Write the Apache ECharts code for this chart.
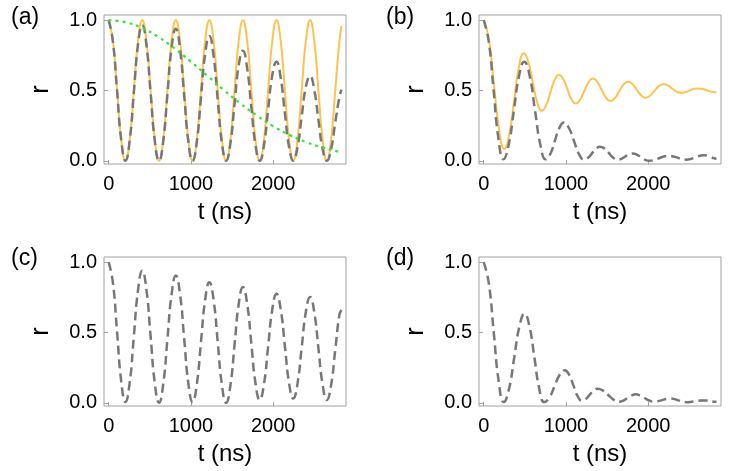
<!DOCTYPE html>
<html>
<head>
<meta charset="utf-8">
<script src="https://cdn.jsdelivr.net/npm/echarts@6/dist/echarts.min.js"></script>
<style>
  html, body { margin: 0; padding: 0; background: #fff; }
  #chart { width: 750px; height: 471px; }
</style>
</head>
<body>
<div id="chart"></div>
<script>
// time samples (ns) shared by panels (a) and (c)
const tA = [0, 51, 102, 153, 204, 255, 306, 357, 408, 459, 510, 561, 612, 663, 714, 765,
  816, 867, 918, 969, 1020, 1071, 1122, 1173, 1224, 1275, 1326, 1377, 1428, 1479, 1530, 1581,
  1632, 1683, 1734, 1785, 1836, 1887, 1938, 1989, 2040, 2091, 2142, 2193, 2244, 2295, 2346, 2397,
  2448, 2499, 2550, 2601, 2652, 2703, 2754, 2805, 2830];

// (a) solid orange
const aOrange = [1, .854, .5, .146, 0, .146, .5, .854, 1, .854, .5, .146, 0, .146, .5, .854,
  1, .854, .5, .146, 0, .146, .5, .854, 1, .854, .5, .146, 0, .146, .5, .854,
  1, .854, .5, .146, 0, .146, .5, .854, 1, .854, .5, .146, 0, .146, .5, .854,
  1, .854, .5, .146, 0, .146, .5, .854, .96];

// (a) gray dashed
const aGray = [1, .850, .496, .144, 0, .143, .487, .828, .965, .821, .479, .140, 0, .139, .473, .805,
  .940, .797, .463, .134, 0, .132, .450, .763, .887, .746, .430, .124, 0, .120, .404, .680,
  .783, .660, .382, .110, 0, .107, .362, .610, .704, .590, .339, .097, 0, .094, .314, .526,
  .603, .506, .291, .084, 0, .080, .270, .453, .506];

// (a) green dotted
const tGreen = [0, 200, 400, 600, 800, 1000, 1200, 1400, 1600, 1800, 2000, 2200, 2400, 2600, 2800, 2830];
const aGreen = [1, .986, .946, .882, .799, .705, .604, .503, .408, .322, .246, .184, .133, .094, .064, .061];

// (b) solid orange [t, r]
const bOrange = [[0, 1], [63, .866], [125, .542], [188, .217], [250, .083], [309, .182], [369, .424], [428, .665],
  [487, .764], [542, .704], [596, .560], [651, .415], [705, .355], [758, .393], [810, .484], [863, .575],
  [915, .612], [966, .582], [1017, .510], [1067, .437], [1118, .407], [1171, .433], [1223, .496], [1276, .559],
  [1328, .585], [1381, .562], [1434, .505], [1487, .448], [1540, .425], [1594, .445], [1648, .494], [1701, .543],
  [1755, .563], [1808, .546], [1860, .506], [1913, .466], [1965, .449], [2020, .463], [2075, .497], [2130, .531],
  [2185, .545], [2238, .536], [2292, .514], [2345, .492], [2398, .483], [2449, .488], [2500, .499], [2551, .510],
  [2602, .515], [2655, .511], [2709, .502], [2762, .492], [2815, .488], [2830, .489]];

// (b) gray dashed [t, r]
const bGray = [[0, 1], [60, .855], [120, .505], [180, .155], [240, .01], [303, .111], [367, .358], [430, .604],
  [493, .705], [559, .604], [624, .358], [690, .111], [755, .01], [810, .048], [865, .141], [920, .234],
  [975, .272], [1036, .233], [1098, .140], [1159, .047], [1220, .008], [1269, .021], [1318, .054], [1366, .087],
  [1415, .10], [1469, .087], [1523, .054], [1576, .021], [1630, .008], [1675, .014], [1720, .030], [1765, .046],
  [1810, .052], [1860, .044], [1910, .026], [1960, .008], [2010, 0], [2070, .005], [2130, .018], [2190, .030],
  [2250, .035], [2303, .031], [2355, .022], [2408, .012], [2460, .008], [2515, .013], [2570, .024], [2625, .035],
  [2680, .04], [2718, .036], [2755, .028], [2793, .019], [2830, .015]];

// (c) gray dashed, same time samples as (a)
const cGray = [1, .855, .503, .150, .005, .142, .473, .803, .94, .803, .47, .137, 0, .132, .453, .773,
  .905, .774, .455, .136, .005, .130, .432, .733, .858, .733, .429, .125, 0, .120, .412, .703,
  .823, .706, .422, .137, .02, .130, .398, .665, .775, .666, .403, .139, .03, .135, .391, .647,
  .752, .645, .386, .127, .02, .124, .375, .626, .66];

// (d) gray dashed [t, r]
const dGray = [[0, 1], [61, .855], [122, .503], [183, .150], [244, .005], [307, .097], [371, .320], [434, .542],
  [497, .634], [557, .542], [617, .320], [677, .097], [737, .005], [799, .038], [862, .119], [924, .199],
  [986, .232], [1038, .200], [1090, .124], [1142, .047], [1194, .015], [1242, .027], [1290, .058], [1338, .088],
  [1386, .10], [1451, .086], [1517, .054], [1582, .021], [1647, .007], [1697, .015], [1747, .034], [1797, .052],
  [1847, .06], [1902, .052], [1957, .034], [2012, .016], [2067, .008], [2117, .011], [2168, .019], [2218, .027],
  [2268, .03], [2318, .026], [2368, .017], [2418, .008], [2468, .004], [2518, .006], [2568, .011], [2618, .015],
  [2668, .017], [2709, .016], [2749, .012], [2790, .008], [2830, .007]];

const xTicks = [0, 1000, 2000];
const yTicks = [0, 0.5, 1];
const panelLabels = ['(a)', '(b)', '(c)', '(d)'];

const zip = (ts, vs) => ts.map((t, i) => [t, vs[i]]);

const FONT = "'Liberation Sans', Arial, sans-serif";
const ORANGE = '#ffc24c';
const GRAY = '#777777';
const GREEN = '#33e833';

const gridPos = [
  {left: 104, top: 15},
  {left: 479, top: 15},
  {left: 104, top: 257},
  {left: 479, top: 257}
];

const chart = echarts.init(document.getElementById('chart'));

const orangeLine = (idx, data) => ({
  type: 'line', xAxisIndex: idx, yAxisIndex: idx, data: data, smooth: true,
  showSymbol: false, symbol: 'none', z: 2,
  lineStyle: {color: ORANGE, width: 2}
});
const grayLine = (idx, data) => ({
  type: 'line', xAxisIndex: idx, yAxisIndex: idx, data: data, smooth: true,
  showSymbol: false, symbol: 'none', z: 3,
  lineStyle: {color: GRAY, width: 2.5, type: [9, 5]}
});

const option = {
  animation: false,
  backgroundColor: '#fff',
  textStyle: {fontFamily: FONT},
  title: panelLabels.map((txt, i) => ({
    text: txt,
    left: i % 2 === 0 ? 11 : 386,
    top: i < 2 ? 6 : 247,
    padding: 0,
    textStyle: {fontSize: 23, fontWeight: 'normal', color: '#000', fontFamily: FONT}
  })),
  grid: gridPos.map(p => ({
    left: p.left, top: p.top, width: 242, height: 149,
    show: true, borderColor: '#a0a0a0', borderWidth: 1, backgroundColor: 'transparent'
  })),
  xAxis: gridPos.map((p, i) => ({
    gridIndex: i, type: 'value', min: -57, max: 2885,
    name: 't (ns)', nameLocation: 'middle', nameGap: 36,
    nameTextStyle: {fontSize: 24, color: '#000', fontFamily: FONT},
    axisLine: {show: false, onZero: false},
    splitLine: {show: false},
    axisTick: {show: true, inside: true, length: 4, customValues: xTicks, lineStyle: {color: '#a0a0a0'}},
    axisLabel: {customValues: xTicks, fontSize: 20, color: '#000', margin: 10, fontFamily: FONT,
      formatter: v => String(v)}
  })),
  yAxis: gridPos.map((p, i) => ({
    gridIndex: i, type: 'value', min: -0.023, max: 1.037,
    name: 'r', nameLocation: 'middle', nameGap: 50,
    nameTextStyle: {fontSize: 25, color: '#000', fontFamily: FONT},
    axisLine: {show: false, onZero: false},
    splitLine: {show: false},
    axisTick: {show: true, inside: true, length: 4, customValues: yTicks, lineStyle: {color: '#a0a0a0'}},
    axisLabel: {customValues: yTicks, fontSize: 20, color: '#000', margin: 7, fontFamily: FONT,
      formatter: v => v.toFixed(1)}
  })),
  series: [
    orangeLine(0, zip(tA, aOrange)),
    grayLine(0, zip(tA, aGray)),
    {
      type: 'line', xAxisIndex: 0, yAxisIndex: 0, data: zip(tGreen, aGreen), smooth: true,
      showSymbol: false, symbol: 'none', z: 4,
      lineStyle: {color: GREEN, width: 2.2, type: [3, 4]}
    },
    orangeLine(1, bOrange),
    grayLine(1, bGray),
    grayLine(2, zip(tA, cGray)),
    grayLine(3, dGray)
  ]
};

chart.setOption(option);
window.addEventListener('resize', () => chart.resize());
</script>
</body>
</html>
